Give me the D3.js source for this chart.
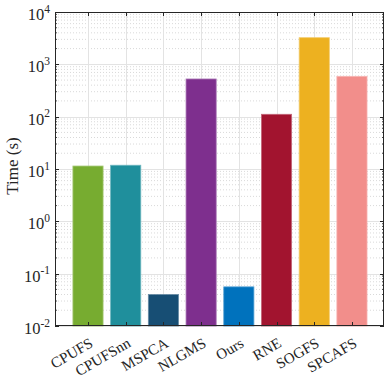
<!DOCTYPE html>
<html><head><meta charset="utf-8">
<script src="https://cdn.jsdelivr.net/npm/d3@7"></script>
<style>body{margin:0;background:#fff}svg{display:block}</style>
</head><body>
<svg id="c" width="387" height="378"></svg>
<script>
const categories = ["CPUFS","CPUFSnn","MSPCA","NLGMS","Ours","RNE","SOGFS","SPCAFS"];
const times = [11.4, 11.8, 0.040, 525, 0.056, 111, 3230, 590];
const colors = ["#77AC30","#1F8F9C","#174E74","#7E2F8E","#0072BD","#A2142F","#EDB120","#F28E8B"];
const yTickExps = [-2,-1,0,1,2,3,4];
const yLabel = "Time (s)";

const svg = d3.select("#c");
const L = 55, R = 384, T = 12, B = 326;
const font = "Liberation Serif, Times New Roman, serif";

const x = d3.scaleLinear().domain([0.125, 8.85]).range([L, R]);
const y = d3.scaleLog().domain([1e-2, 1e4]).range([B, T]);
const bw = (x(2) - x(1)) * 0.8;

const g = svg.append("g");
// minor grid
const minors = [];
for (let e = -2; e < 4; e++) for (let k = 2; k <= 9; k++) minors.push(k * Math.pow(10, e));
g.selectAll(".mg").data(minors).enter().append("line")
  .attr("x1", L).attr("x2", R).attr("y1", d => y(d)).attr("y2", d => y(d))
  .attr("stroke", "#d9d9d9").attr("stroke-width", 1).attr("stroke-dasharray", "1,2");
// major grid
g.selectAll(".Mg").data(yTickExps.map(e => Math.pow(10, e))).enter().append("line")
  .attr("x1", L).attr("x2", R).attr("y1", d => Math.round(y(d)) + 0.5).attr("y2", d => Math.round(y(d)) + 0.5)
  .attr("stroke", "#e3e3e3").attr("stroke-width", 1);
g.selectAll(".xg").data(categories).enter().append("line")
  .attr("x1", (d, i) => Math.round(x(i + 1)) + 0.5).attr("x2", (d, i) => Math.round(x(i + 1)) + 0.5)
  .attr("y1", T).attr("y2", B)
  .attr("stroke", "#e3e3e3").attr("stroke-width", 1);

// bars
g.selectAll(".bar").data(times).enter().append("rect")
  .attr("x", (d, i) => x(i + 1) - bw / 2)
  .attr("width", bw)
  .attr("y", d => y(d))
  .attr("height", d => B - y(d))
  .attr("fill", (d, i) => colors[i])
  .attr("stroke", (d, i) => d3.interpolateRgb(colors[i], "#ffffff")(0.35))
  .attr("stroke-width", 0.8);

// axes box
const ax = svg.append("g").attr("stroke", "#262626").attr("fill", "none");
ax.append("rect").attr("x", L + 0.5).attr("y", T + 0.5).attr("width", R - L - 1).attr("height", B - T - 1).attr("stroke-width", 1);
// y ticks
yTickExps.forEach(e => {
  const yy = Math.round(y(Math.pow(10, e))) + 0.5;
  ax.append("line").attr("x1", L).attr("x2", L + 4).attr("y1", yy).attr("y2", yy);
  ax.append("line").attr("x1", R - 4).attr("x2", R).attr("y1", yy).attr("y2", yy);
});
minors.forEach(v => {
  const yy = y(v);
  ax.append("line").attr("x1", L).attr("x2", L + 2).attr("y1", yy).attr("y2", yy).attr("stroke-width", 0.8);
  ax.append("line").attr("x1", R - 2).attr("x2", R).attr("y1", yy).attr("y2", yy).attr("stroke-width", 0.8);
});
// x ticks
categories.forEach((c, i) => {
  const xx = Math.round(x(i + 1)) + 0.5;
  ax.append("line").attr("x1", xx).attr("x2", xx).attr("y1", B).attr("y2", B - 4);
  ax.append("line").attr("x1", xx).attr("x2", xx).attr("y1", T).attr("y2", T + 4);
});

// y tick labels
const yl = svg.append("g").attr("font-family", font).attr("fill", "#262626");
yTickExps.forEach(e => {
  const t = yl.append("text").attr("x", L - 5).attr("y", y(Math.pow(10, e)) + 8)
    .attr("text-anchor", "end").attr("font-size", 16.5);
  t.append("tspan").text("10");
  t.append("tspan").attr("dy", -7.5).attr("font-size", 11.5).text(String(e));
});
// x tick labels
categories.forEach((c, i) => {
  yl.append("text")
    .attr("transform", `translate(${x(i + 1) + 6},${B + 20}) rotate(-30)`)
    .attr("text-anchor", "end").attr("font-size", 15).text(c);
});
// y axis label
yl.append("text").attr("transform", `translate(18,166) rotate(-90)`)
  .attr("text-anchor", "middle").attr("font-size", 17).text(yLabel);
</script>
</body></html>
